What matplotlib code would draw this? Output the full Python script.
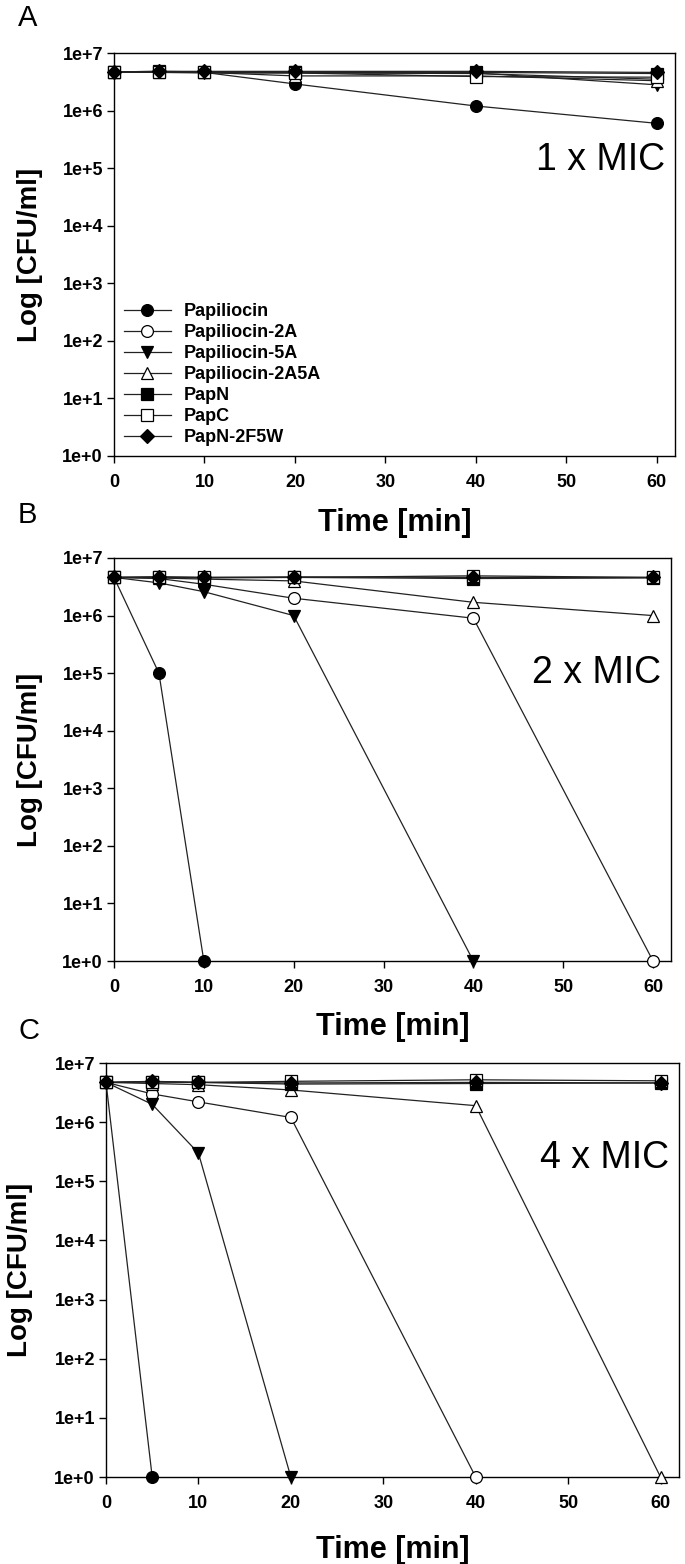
import matplotlib
matplotlib.use("Agg")
import matplotlib.pyplot as plt
from matplotlib.ticker import FixedLocator, FixedFormatter

plt.rcParams['font.family'] = ['Liberation Sans', 'DejaVu Sans']

series_names = ["Papiliocin", "Papiliocin-2A", "Papiliocin-5A", "Papiliocin-2A5A",
                "PapN", "PapC", "PapN-2F5W"]
times_full = [0, 5, 10, 20, 40, 60]

# Panel A (1 x MIC)
a_times = {n: times_full for n in series_names}
a_vals = {
    "Papiliocin":      [4.7e6, 4.7e6, 4.6e6, 2.9e6, 1.2e6, 6.0e5],
    "Papiliocin-2A":   [4.7e6, 4.7e6, 4.6e6, 4.5e6, 4.4e6, 3.5e6],
    "Papiliocin-5A":   [4.7e6, 4.6e6, 4.5e6, 4.6e6, 4.5e6, 2.8e6],
    "Papiliocin-2A5A": [4.7e6, 4.7e6, 4.6e6, 4.0e6, 4.0e6, 3.3e6],
    "PapN":            [4.7e6, 4.8e6, 4.7e6, 4.7e6, 4.6e6, 4.4e6],
    "PapC":            [4.7e6, 4.7e6, 4.6e6, 4.5e6, 3.9e6, 3.8e6],
    "PapN-2F5W":       [4.7e6, 4.8e6, 4.8e6, 4.8e6, 4.8e6, 4.6e6],
}

# Panel B (2 x MIC)
b_times = {
    "Papiliocin": [0, 5, 10],
    "Papiliocin-2A": times_full,
    "Papiliocin-5A": [0, 5, 10, 20, 40],
    "Papiliocin-2A5A": times_full,
    "PapN": times_full,
    "PapC": times_full,
    "PapN-2F5W": times_full,
}
b_vals = {
    "Papiliocin":      [4.6e6, 1.0e5, 1.0],
    "Papiliocin-2A":   [4.6e6, 4.4e6, 3.5e6, 2.0e6, 9.0e5, 1.0],
    "Papiliocin-5A":   [4.6e6, 3.7e6, 2.6e6, 1.0e6, 1.0],
    "Papiliocin-2A5A": [4.6e6, 4.5e6, 4.3e6, 4.0e6, 1.7e6, 1.0e6],
    "PapN":            [4.6e6, 4.6e6, 4.5e6, 4.6e6, 4.4e6, 4.5e6],
    "PapC":            [4.6e6, 4.7e6, 4.6e6, 4.6e6, 4.9e6, 4.6e6],
    "PapN-2F5W":       [4.6e6, 4.7e6, 4.6e6, 4.7e6, 4.6e6, 4.6e6],
}

# Panel C (4 x MIC)
c_times = {
    "Papiliocin": [0, 5],
    "Papiliocin-2A": [0, 5, 10, 20, 40],
    "Papiliocin-5A": [0, 5, 10, 20],
    "Papiliocin-2A5A": times_full,
    "PapN": times_full,
    "PapC": times_full,
    "PapN-2F5W": times_full,
}
c_vals = {
    "Papiliocin":      [4.7e6, 1.0],
    "Papiliocin-2A":   [4.7e6, 3.0e6, 2.2e6, 1.2e6, 1.0],
    "Papiliocin-5A":   [4.7e6, 2.0e6, 3.0e5, 1.0],
    "Papiliocin-2A5A": [4.7e6, 4.5e6, 4.3e6, 3.5e6, 1.9e6, 1.0],
    "PapN":            [4.7e6, 4.8e6, 4.7e6, 4.4e6, 4.5e6, 4.6e6],
    "PapC":            [4.7e6, 4.8e6, 4.7e6, 4.9e6, 5.2e6, 5.0e6],
    "PapN-2F5W":       [4.7e6, 4.9e6, 4.7e6, 4.6e6, 4.7e6, 4.6e6],
}

panel_letters = ["A", "B", "C"]
mic_labels = ["1 x MIC", "2 x MIC", "4 x MIC"]
mic_levels = [10**5.15, 10**5.0, 10**5.4]
y_ticks = [1e0, 1e1, 1e2, 1e3, 1e4, 1e5, 1e6, 1e7]
y_ticklabels = ["1e+0", "1e+1", "1e+2", "1e+3", "1e+4", "1e+5", "1e+6", "1e+7"]
x_ticks = [0, 10, 20, 30, 40, 50, 60]

styles = {
    "Papiliocin":      dict(marker="o", mfc="black"),
    "Papiliocin-2A":   dict(marker="o", mfc="white"),
    "Papiliocin-5A":   dict(marker="v", mfc="black"),
    "Papiliocin-2A5A": dict(marker="^", mfc="white"),
    "PapN":            dict(marker="s", mfc="black"),
    "PapC":            dict(marker="s", mfc="white"),
    "PapN-2F5W":       dict(marker="D", mfc="black"),
}

W, H = 685, 1564
fig = plt.figure(figsize=(W / 100, H / 100), dpi=100)

# axes boxes in pixels: left, right, top, bottom
boxes = [(114, 675, 53, 456), (114, 671, 558, 961), (106, 679, 1063, 1477)]
letter_xy = [(18, 18), (18, 515), (18, 1031)]
ylabel_x = [30, 30, 20]
xlabel_off = [67, 66, 73]
panels = [(a_times, a_vals), (b_times, b_vals), (c_times, c_vals)]

for i, (box, (tdict, vdict)) in enumerate(zip(boxes, panels)):
    l, r, t, b = box
    ax = fig.add_axes([l / W, 1 - b / H, (r - l) / W, (b - t) / H])
    for name in series_names:
        st = styles[name]
        ms = 8.5 if st["marker"] != "D" else 7.5
        ax.plot(tdict[name], vdict[name], color="#222222", lw=0.9,
                marker=st["marker"], mfc=st["mfc"], mec="black", mew=0.9,
                ms=ms, label=name, clip_on=False, zorder=3)
    ax.set_yscale("log")
    ax.set_ylim(1, 1e7)
    ax.set_xlim(0, 62)
    ax.yaxis.set_major_locator(FixedLocator(y_ticks))
    ax.yaxis.set_major_formatter(FixedFormatter(y_ticklabels))
    ax.yaxis.set_minor_locator(FixedLocator([]))
    ax.set_xticks(x_ticks)
    ax.tick_params(direction="out", length=5, width=1, labelsize=13)
    ax.tick_params(axis="y", pad=3)
    ax.tick_params(axis="x", pad=8)
    for lab in ax.get_xticklabels() + ax.get_yticklabels():
        lab.set_fontweight("bold")
    for sp in ax.spines.values():
        sp.set_linewidth(1.0)
    hpx = b - t
    wpx = r - l
    ax.set_xlabel("Time [min]", fontsize=22, fontweight="bold")
    ax.xaxis.label.set_va("center")
    ax.xaxis.set_label_coords(0.5, -xlabel_off[i] / hpx)
    ax.set_ylabel("Log [CFU/ml]", fontsize=20, fontweight="bold")
    ax.yaxis.label.set_va("center")
    ax.yaxis.set_label_coords((ylabel_x[i] - l) / wpx, 0.5)
    ax.text(60.9, mic_levels[i], mic_labels[i], ha="right", va="center", fontsize=27)
    lx, ly = letter_xy[i]
    fig.text(lx / W, 1 - ly / H, panel_letters[i], fontsize=21,
             ha="left", va="center")
    if i == 0:
        ax.legend(loc="lower left", frameon=False,
                  prop={"weight": "bold", "size": 13}, handlelength=2.6,
                  labelspacing=0.22, borderaxespad=0.25, handletextpad=0.7,
                  borderpad=0.3, bbox_to_anchor=(0.0, 0.0))

fig.savefig("out.png", dpi=100)
